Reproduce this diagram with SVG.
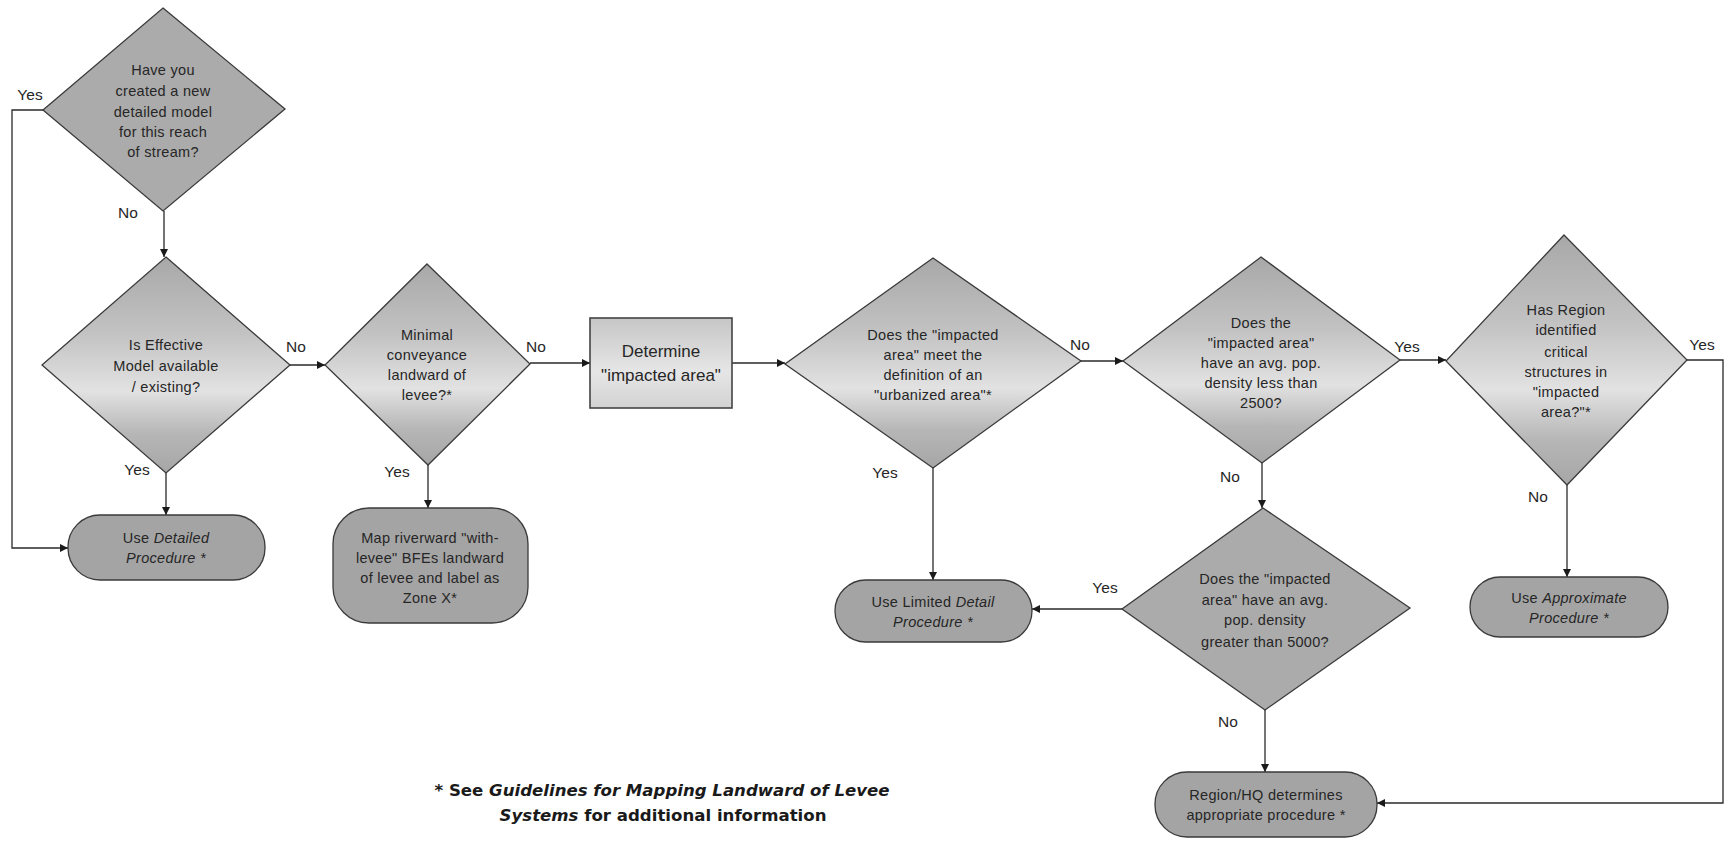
<svg xmlns="http://www.w3.org/2000/svg" width="1731" height="842" viewBox="0 0 1731 842">
<style>
.dg{fill:url(#gD);stroke:#3a3a3a;stroke-width:1.3}
.dp{fill:#ababab;stroke:#3a3a3a;stroke-width:1.3}
.rr{fill:#a4a4a4;stroke:#3a3a3a;stroke-width:1.3}
.bx{fill:url(#gR);stroke:#444;stroke-width:1.6}
.t{font-family:"Liberation Sans",Arial,sans-serif;font-size:14.5px;letter-spacing:0.3px;fill:#262626;text-anchor:middle}
.tb{font-family:"Liberation Sans",Arial,sans-serif;font-size:17px;fill:#262626;text-anchor:middle}
.lb{font-family:"Liberation Sans",Arial,sans-serif;font-size:15.5px;fill:#262626;text-anchor:middle}
.c{fill:none;stroke:#2a2a2a;stroke-width:1.3;marker-end:url(#ah)}
.ft{font-family:"DejaVu Sans",Verdana,sans-serif;font-size:16px;font-weight:bold;fill:#1a1a1a;text-anchor:middle}
</style>
<defs>
<linearGradient id="gD" x1="0" y1="0" x2="0" y2="1">
<stop offset="0" stop-color="#a8a8a8"/>
<stop offset="0.35" stop-color="#c2c2c2"/>
<stop offset="0.62" stop-color="#e2e2e2"/>
<stop offset="0.82" stop-color="#b6b6b6"/>
<stop offset="1" stop-color="#a6a6a6"/>
</linearGradient>
<linearGradient id="gR" x1="0" y1="0" x2="0" y2="1">
<stop offset="0" stop-color="#c6c6c6"/>
<stop offset="0.6" stop-color="#e6e6e6"/>
<stop offset="1" stop-color="#d2d2d2"/>
</linearGradient>
<marker id="ah" viewBox="0 0 10 10" refX="10" refY="5" markerWidth="8" markerHeight="8" markerUnits="userSpaceOnUse" orient="auto">
<path d="M0,0 L10,5 L0,10 z" fill="#1a1a1a"/>
</marker>
</defs>

<g id="connectors">
<path class="c" d="M164,211 L164,257"/>
<path class="c" d="M43,110 L12,110 L12,548 L68,548"/>
<path class="c" d="M166,473 L166,515"/>
<path class="c" d="M290,365 L325,365"/>
<path class="c" d="M428,465 L428,508"/>
<path class="c" d="M530,363 L590,363"/>
<path class="c" d="M732,363 L785,363"/>
<path class="c" d="M1081,361 L1123,361"/>
<path class="c" d="M933,468 L933,580"/>
<path class="c" d="M1262,463 L1262,508"/>
<path class="c" d="M1400,360 L1446,360"/>
<path class="c" d="M1122,609 L1032,609"/>
<path class="c" d="M1265,710 L1265,772"/>
<path class="c" d="M1567,485 L1567,577"/>
<path class="c" d="M1687,360 L1723,360 L1723,803 L1377,803"/>
<text class="lb" x="30" y="100">Yes</text>
<text class="lb" x="128" y="218">No</text>
<text class="lb" x="296" y="352">No</text>
<text class="lb" x="137" y="475">Yes</text>
<text class="lb" x="536" y="352">No</text>
<text class="lb" x="397" y="477">Yes</text>
<text class="lb" x="1080" y="350">No</text>
<text class="lb" x="885" y="478">Yes</text>
<text class="lb" x="1407" y="352">Yes</text>
<text class="lb" x="1230" y="482">No</text>
<text class="lb" x="1105" y="593">Yes</text>
<text class="lb" x="1228" y="727">No</text>
<text class="lb" x="1702" y="350">Yes</text>
<text class="lb" x="1538" y="502">No</text>
</g>

<g id="d1">
<polygon class="dp" points="163,8 285,109 163,211 43,110"/>
<text class="t" x="163" y="75">Have you</text>
<text class="t" x="163" y="96">created a new</text>
<text class="t" x="163" y="117">detailed model</text>
<text class="t" x="163" y="137">for this reach</text>
<text class="t" x="163" y="157">of stream?</text>
</g>

<g id="d2">
<polygon class="dg" points="166,257 290,365 166,473 42,365"/>
<text class="t" x="166" y="350">Is Effective</text>
<text class="t" x="166" y="371">Model available</text>
<text class="t" x="166" y="392">/ existing?</text>
</g>

<g id="rr1">
<rect class="rr" x="68" y="515" width="197" height="65" rx="32" ry="32"/>
<text class="t" x="166" y="543">Use <tspan font-style="italic">Detailed</tspan></text>
<text class="t" x="166" y="563" font-style="italic">Procedure *</text>
</g>

<g id="d3">
<polygon class="dg" points="427,264 530,364 428,465 325,365"/>
<text class="t" x="427" y="340">Minimal</text>
<text class="t" x="427" y="360">conveyance</text>
<text class="t" x="427" y="380">landward of</text>
<text class="t" x="427" y="400">levee?*</text>
</g>

<g id="rr2">
<rect class="rr" x="333" y="508" width="195" height="115" rx="36" ry="36"/>
<text class="t" x="430" y="543">Map riverward "with-</text>
<text class="t" x="430" y="563">levee" BFEs landward</text>
<text class="t" x="430" y="583">of levee and label as</text>
<text class="t" x="430" y="603">Zone X*</text>
</g>

<g id="bx1">
<rect class="bx" x="590" y="318" width="142" height="90"/>
<text class="tb" x="661" y="357">Determine</text>
<text class="tb" x="661" y="381">"impacted area"</text>
</g>

<g id="d4">
<polygon class="dg" points="933,258 1081,361 933,468 785,364"/>
<text class="t" x="933" y="340">Does the "impacted</text>
<text class="t" x="933" y="360">area" meet the</text>
<text class="t" x="933" y="380">definition of an</text>
<text class="t" x="933" y="400">"urbanized area"*</text>
</g>

<g id="rr3">
<rect class="rr" x="835" y="580" width="197" height="62" rx="31" ry="31"/>
<text class="t" x="933" y="607">Use Limited <tspan font-style="italic">Detail</tspan></text>
<text class="t" x="933" y="627" font-style="italic">Procedure *</text>
</g>

<g id="d5">
<polygon class="dg" points="1261,257 1400,360 1262,463 1123,361"/>
<text class="t" x="1261" y="328">Does the</text>
<text class="t" x="1261" y="348">"impacted area"</text>
<text class="t" x="1261" y="368">have an avg. pop.</text>
<text class="t" x="1261" y="388">density less than</text>
<text class="t" x="1261" y="408">2500?</text>
</g>

<g id="d7">
<polygon class="dp" points="1263,508 1410,608 1265,710 1122,609"/>
<text class="t" x="1265" y="584">Does the "impacted</text>
<text class="t" x="1265" y="605">area" have an avg.</text>
<text class="t" x="1265" y="625">pop. density</text>
<text class="t" x="1265" y="647">greater than 5000?</text>
</g>

<g id="rr4">
<rect class="rr" x="1155" y="772" width="222" height="65" rx="32" ry="32"/>
<text class="t" x="1266" y="800">Region/HQ determines</text>
<text class="t" x="1266" y="820">appropriate procedure *</text>
</g>

<g id="d6">
<polygon class="dg" points="1564,235 1687,360 1567,485 1446,361"/>
<text class="t" x="1566" y="315">Has Region</text>
<text class="t" x="1566" y="335">identified</text>
<text class="t" x="1566" y="357">critical</text>
<text class="t" x="1566" y="377">structures in</text>
<text class="t" x="1566" y="397">"impacted</text>
<text class="t" x="1566" y="417">area?"*</text>
</g>

<g id="rr5">
<rect class="rr" x="1470" y="577" width="198" height="60" rx="30" ry="30"/>
<text class="t" x="1569" y="603">Use <tspan font-style="italic">Approximate</tspan></text>
<text class="t" x="1569" y="623" font-style="italic">Procedure *</text>
</g>

<g id="footnote">
<text class="ft" x="662" y="796" textLength="455" lengthAdjust="spacingAndGlyphs">* See <tspan font-style="italic">Guidelines for Mapping Landward of Levee</tspan></text>
<text class="ft" x="663" y="821" textLength="327" lengthAdjust="spacingAndGlyphs"><tspan font-style="italic">Systems</tspan> for additional information</text>
</g>
</svg>
